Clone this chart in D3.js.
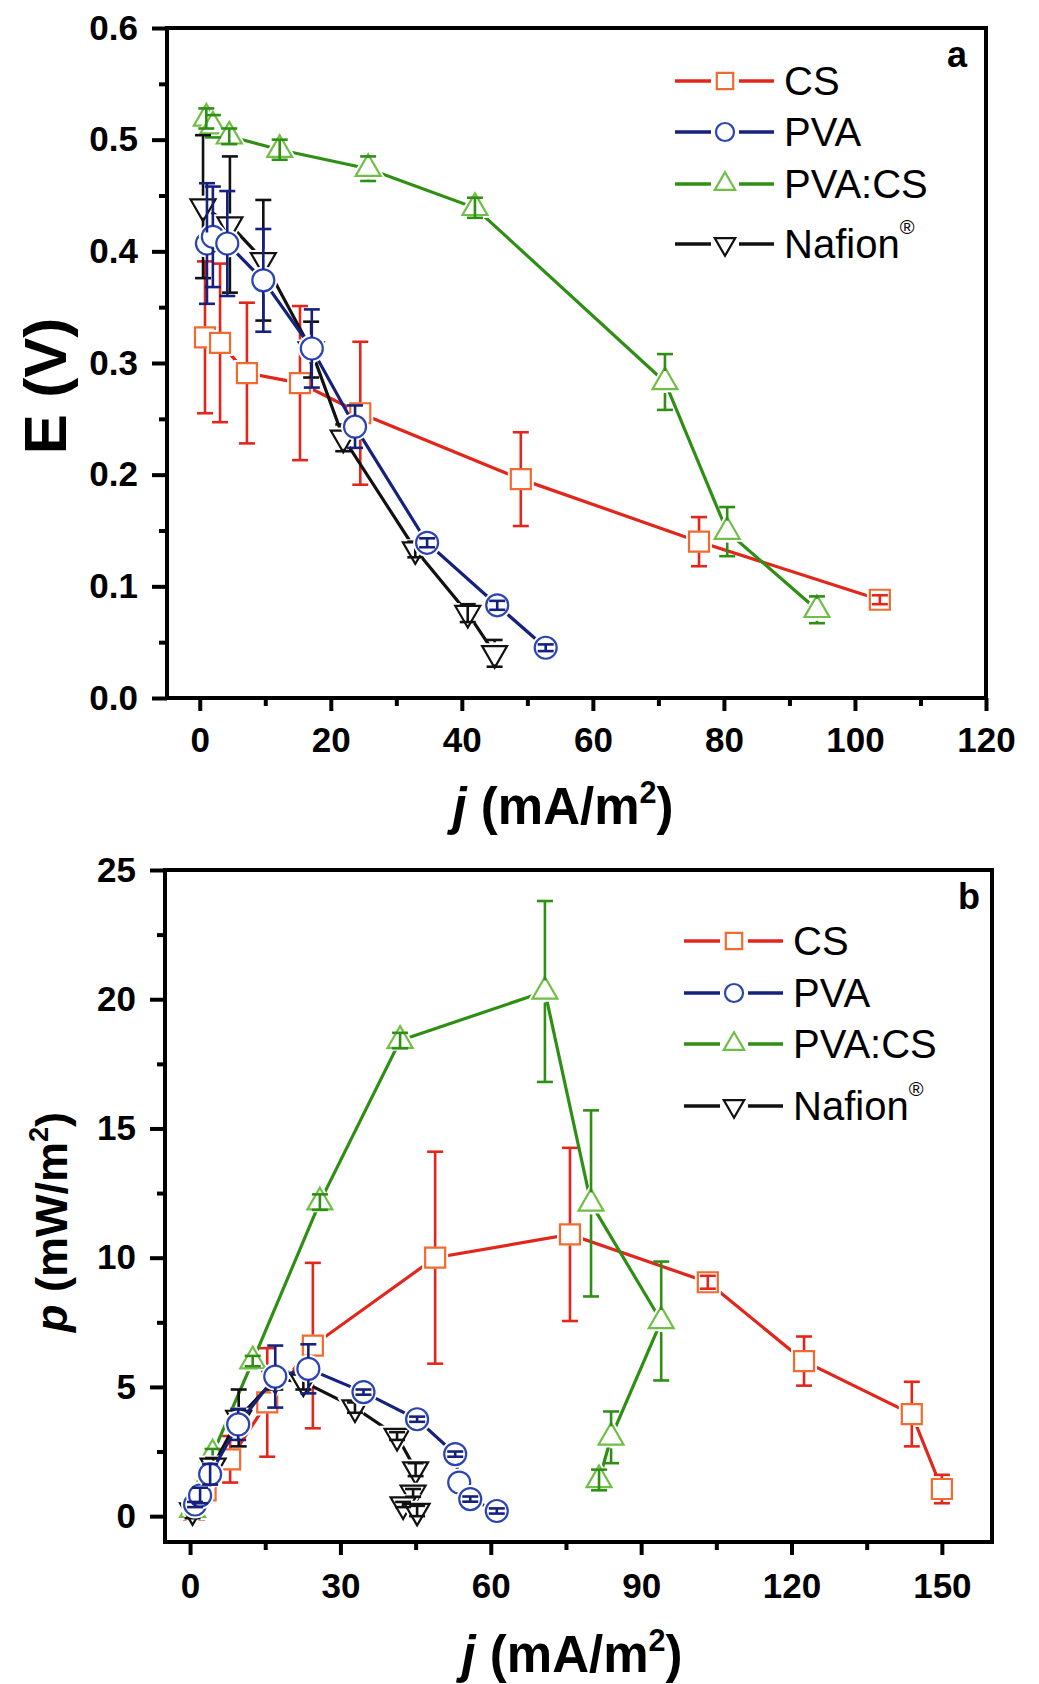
<!DOCTYPE html>
<html>
<head>
<meta charset="utf-8">
<script src="https://cdn.jsdelivr.net/npm/d3@7"></script>
<style>
  body { margin: 0; background: #fff; }
  text { font-family: Arial, "Liberation Sans", sans-serif; }
</style>
</head>
<body>
<div id="chart"></div>
<script>
// values

// panel a: E (V) against j (mA/m2)
const cs_j_a = [0.8, 3.1, 7.2, 15.3, 24.5, 49.0, 76.2, 103.8]
const cs_E = [0.323, 0.318, 0.291, 0.282, 0.255, 0.196, 0.140, 0.088]
const cs_E_err = [0.068, 0.071, 0.063, 0.069, 0.064, 0.042, 0.022, 0.004]

const pva_j_a = [1.1, 2.0, 4.2, 9.7, 17.1, 23.7, 34.7, 45.4, 52.8]
const pva_E = [0.407, 0.413, 0.407, 0.374, 0.313, 0.243, 0.139, 0.083, 0.045]
const pva_E_err = [0.054, 0.045, 0.047, 0.046, 0.035, 0.019, 0.004, 0.004, 0.003]

const pvacs_j_a = [1.0, 2.0, 4.5, 12.2, 25.7, 42.0, 71.0, 80.5, 94.2]
const pvacs_E = [0.519, 0.512, 0.503, 0.491, 0.474, 0.439, 0.283, 0.149, 0.079]
const pvacs_E_err = [0.009, 0.010, 0.007, 0.009, 0.011, 0.009, 0.025, 0.022, 0.012]

const naf_j_a = [0.5, 4.6, 9.7, 17.0, 21.9, 32.9, 40.9, 45.0]
const naf_E = [0.440, 0.424, 0.392, 0.312, 0.233, 0.133, 0.076, 0.040]
const naf_E_err = [0.064, 0.061, 0.054, 0.025, 0.012, 0.007, 0.008, 0.012]

// panel b: p (mW/m2) against j (mA/m2)
const cs_j_b = [0.8, 3.1, 8.0, 15.4, 24.5, 48.9, 75.8, 103.3, 122.5, 144.0, 150.0]
const cs_P = [0.25, 1.0, 2.2, 4.4, 6.6, 10.0, 10.9, 9.05, 6.0, 3.95, 1.05]
const cs_P_err = [0.15, 0.3, 0.9, 2.1, 3.2, 4.1, 3.35, 0.25, 0.95, 1.25, 0.55]

const pva_j_b = [1.0, 2.0, 4.0, 9.6, 17.0, 23.6, 34.6, 45.3, 52.9, 53.7, 55.9, 61.2]
const pva_P = [0.45, 0.8, 1.62, 3.55, 5.4, 5.7, 4.8, 3.75, 2.4, 1.3, 0.66, 0.2]
const pva_P_err = [0.1, 0.3, 0.4, 0.6, 1.2, 0.95, 0.1, 0.1, 0.1, 0, 0.1, 0.1]

const pvacs_j_b = [0.5, 1.5, 4.5, 12.5, 25.9, 41.9, 70.8, 80.0, 94.0, 84.0, 81.6]
const pvacs_P = [0.25, 0.8, 2.4, 6.0, 12.15, 18.4, 20.3, 12.1, 7.55, 3.05, 1.4]
const pvacs_P_err = [0.1, 0.2, 0.2, 0.2, 0.3, 0.3, 3.5, 3.6, 2.3, 1.0, 0.4]

const naf_j_b = [0.5, 4.6, 9.7, 17.0, 22.6, 32.9, 41.3, 45.0, 44.5, 42.5, 45.3]
const naf_P = [0.22, 1.95, 3.8, 5.3, 5.2, 4.2, 3.1, 1.8, 0.9, 0.45, 0.2]
const naf_P_err = [0.3, 0.3, 1.1, 0.4, 0.3, 0.2, 0.15, 0.25, 0.15, 0.1, 0.2]

const seriesNames = ["CS", "PVA", "PVA:CS", "Nafion"]

// line colour, marker outline colour, marker shape
const styles = {
  "CS":     {line: "#e3261c", mark: "#f26a2e", shape: "square"},
  "PVA":    {line: "#15217c", mark: "#2b44b3", shape: "circle"},
  "PVA:CS": {line: "#2f8f15", mark: "#6fbf47", shape: "triangle"},
  "Nafion": {line: "#111111", mark: "#111111", shape: "down"}
}

const zipPts = (js, vs, es) => d3.zip(js, vs, es).map(([j, v, e]) => ({j, v, e}))

// drawing order: later ones end up on top
const panelA = {
  xDomain: [-5, 120], xRange: [167, 986],
  yDomain: [0, 0.6], yRange: [698, 28],
  xTicks: d3.range(0, 121, 20), xMinor: d3.range(10, 120, 20),
  yTicks: d3.range(0, 0.61, 0.1), yMinor: d3.range(0.05, 0.6, 0.1),
  yFormat: d3.format(".1f"), xPad: 16,
  series: [
    ["CS", zipPts(cs_j_a, cs_E, cs_E_err)],
    ["PVA:CS", zipPts(pvacs_j_a, pvacs_E, pvacs_E_err)],
    ["Nafion", zipPts(naf_j_a, naf_E, naf_E_err)],
    ["PVA", zipPts(pva_j_a, pva_E, pva_E_err)]
  ],
  letter: {t: "a", x: 947, y: 67},
  legend: {x: 675, rows: [81, 132, 184, 244]},
  xTitle: {x: 563, y: 824, size: 51},
  yTitle: {x: 66, y: 386, size: 60, main: "E (V)", sup: null}
}

const panelB = {
  xDomain: [-5, 160], xRange: [165, 992],
  yDomain: [-1, 25], yRange: [1542, 870],
  xTicks: d3.range(0, 151, 30), xMinor: d3.range(15, 150, 30),
  yTicks: d3.range(0, 26, 5), yMinor: d3.range(2.5, 25, 5),
  yFormat: d3.format("d"), xPad: 18,
  series: [
    ["CS", zipPts(cs_j_b, cs_P, cs_P_err)],
    ["PVA:CS", zipPts(pvacs_j_b, pvacs_P, pvacs_P_err)],
    ["Nafion", zipPts(naf_j_b, naf_P, naf_P_err)],
    ["PVA", zipPts(pva_j_b, pva_P, pva_P_err)]
  ],
  letter: {t: "b", x: 958, y: 909},
  legend: {x: 684, rows: [941, 993, 1044, 1106]},
  xTitle: {x: 572, y: 1672, size: 51},
  yTitle: {x: 67, y: 1222, size: 45, main: "mW/m", sup: "2"}
}

const markerPath = (shape, k) => {
  if (shape === "square") return d3.symbol(d3.symbolSquare, 400 * k * k)()
  if (shape === "circle") return d3.symbol(d3.symbolCircle, Math.PI * 121 * k * k)()
  return d3.symbol(d3.symbolTriangle, 270 * k * k)()
}

const addMarker = (sel, name, k, cx, cy) => {
  const st = styles[name]
  const rot = st.shape === "down" ? " rotate(180)" : ""
  // white halo gives the small gap between line and symbol
  sel.append("path")
    .attr("d", markerPath(st.shape, k))
    .attr("transform", `translate(${cx},${cy})${rot}`)
    .attr("fill", "#fff").attr("stroke", "#fff").attr("stroke-width", 6)
  sel.append("path")
    .attr("d", markerPath(st.shape, k))
    .attr("transform", `translate(${cx},${cy})${rot}`)
    .attr("fill", "#fff").attr("stroke", st.mark).attr("stroke-width", 2.2)
}

const svg = d3.select("#chart").append("svg")
  .attr("width", 1039).attr("height", 1684)

const drawPanel = (p) => {
  const x = d3.scaleLinear().domain(p.xDomain).range(p.xRange)
  const y = d3.scaleLinear().domain(p.yDomain).range(p.yRange)
  const [x0, x1] = p.xRange
  const [y0, y1] = p.yRange
  const g = svg.append("g")

  // major and minor ticks, outside the frame
  const styleAxis = (a) => {
    a.select(".domain").remove()
    a.selectAll("line").attr("stroke", "#000").attr("stroke-width", 4)
    a.selectAll("text").attr("font-size", 35).attr("font-weight", "bold").attr("fill", "#000")
      .attr("font-family", "Arial, 'Liberation Sans', sans-serif")
  }
  g.append("g").attr("transform", `translate(0,${y0})`)
    .call(d3.axisBottom(x).tickValues(p.xTicks).tickSize(13).tickPadding(p.xPad).tickFormat(d3.format("d")))
    .call(styleAxis)
  g.append("g").attr("transform", `translate(0,${y0})`)
    .call(d3.axisBottom(x).tickValues(p.xMinor).tickSize(8).tickFormat(""))
    .call(styleAxis)
  g.append("g").attr("transform", `translate(${x0},0)`)
    .call(d3.axisLeft(y).tickValues(p.yTicks).tickSize(15).tickPadding(14).tickFormat(p.yFormat))
    .call(styleAxis)
  g.append("g").attr("transform", `translate(${x0},0)`)
    .call(d3.axisLeft(y).tickValues(p.yMinor).tickSize(8).tickFormat(""))
    .call(styleAxis)

  g.append("rect")
    .attr("x", x0).attr("y", y1).attr("width", x1 - x0).attr("height", y0 - y1)
    .attr("fill", "none").attr("stroke", "#000").attr("stroke-width", 4)

  const line = d3.line().x(d => x(d.j)).y(d => y(d.v))

  p.series.forEach(([name, pts]) => {
    const st = styles[name]
    const sg = g.append("g")
    sg.append("path").datum(pts)
      .attr("d", line).attr("fill", "none")
      .attr("stroke", st.line).attr("stroke-width", 3.2)
    pts.forEach(d => addMarker(sg, name, 1, x(d.j), y(d.v)))

    // error bars, broken where they cross an open symbol
    const r = 11, cap = 8
    pts.filter(d => d.e > 0).forEach(d => {
      const cx = x(d.j), cy = y(d.v), top = y(d.v + d.e), bot = y(d.v - d.e)
      const segs = (cy - top > r) ? [[top, cy - r], [cy + r, bot]] : [[top, bot]]
      segs.forEach(([a, b]) => sg.append("line")
        .attr("x1", cx).attr("x2", cx).attr("y1", a).attr("y2", b)
        .attr("stroke", st.line).attr("stroke-width", 2.6))
      ;[top, bot].forEach(v => sg.append("line")
        .attr("x1", cx - cap).attr("x2", cx + cap).attr("y1", v).attr("y2", v)
        .attr("stroke", st.line).attr("stroke-width", 2.6))
    })
  })

  // legend
  const lg = g.append("g")
  seriesNames.forEach((name, i) => {
    const ry = p.legend.rows[i], lx = p.legend.x
    const st = styles[name]
    ;[[lx, lx + 36], [lx + 64, lx + 99]].forEach(([a, b]) => lg.append("line")
      .attr("x1", a).attr("x2", b).attr("y1", ry).attr("y2", ry)
      .attr("stroke", st.line).attr("stroke-width", 3.5))
    addMarker(lg, name, 0.82, lx + 50, ry)
    const t = lg.append("text")
      .attr("x", lx + 109).attr("y", ry + 14)
      .attr("font-size", 40).attr("fill", "#000")
      .text(name)
    if (name === "Nafion") {
      t.append("tspan").attr("dy", -24).attr("font-size", 20).text("®")
    }
  })

  g.append("text")
    .attr("x", p.letter.x).attr("y", p.letter.y)
    .attr("font-size", 36).attr("font-weight", "bold")
    .text(p.letter.t)

  // axis titles
  const xs = p.xTitle.size
  const xt = g.append("text")
    .attr("x", p.xTitle.x).attr("y", p.xTitle.y)
    .attr("text-anchor", "middle").attr("font-size", xs).attr("font-weight", "bold")
  xt.append("tspan").attr("font-style", "italic").text("j")
  xt.append("tspan").text(" (mA/m")
  xt.append("tspan").attr("dy", -0.42 * xs).attr("font-size", 0.6 * xs).text("2")
  xt.append("tspan").attr("dy", 0.42 * xs).text(")")

  const ys = p.yTitle.size
  const yt = g.append("text")
    .attr("transform", `translate(${p.yTitle.x},${p.yTitle.y}) rotate(-90)`)
    .attr("text-anchor", "middle").attr("font-size", ys).attr("font-weight", "bold")
  if (p.yTitle.sup) {
    yt.append("tspan").attr("font-style", "italic").text("p")
    yt.append("tspan").text(" (" + p.yTitle.main)
    yt.append("tspan").attr("dy", -0.42 * ys).attr("font-size", 0.6 * ys).text(p.yTitle.sup)
    yt.append("tspan").attr("dy", 0.42 * ys).text(")")
  } else {
    yt.text(p.yTitle.main)
  }
}

drawPanel(panelA)
drawPanel(panelB)
</script>
</body>
</html>
